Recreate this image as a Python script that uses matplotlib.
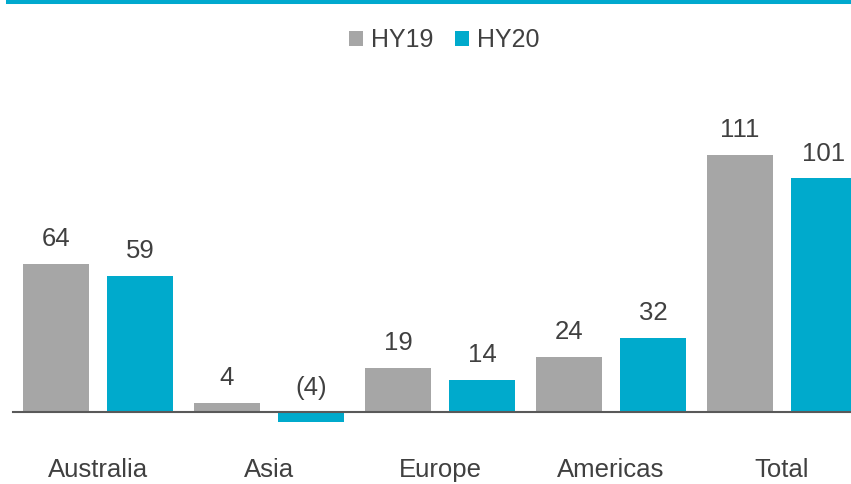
import matplotlib
matplotlib.use("Agg")
import matplotlib.pyplot as plt
from matplotlib.lines import Line2D
import numpy as np

regions = ["Australia", "Asia", "Europe", "Americas", "Total"]
series_names = ["HY19", "HY20"]
hy19 = [64, 4, 19, 24, 111]
hy20 = [59, -4, 14, 32, 101]

GRAY = "#A6A6A6"
TEAL = "#00AACC"
TEXT = "#404040"

plt.rcParams["font.family"] = ["Liberation Sans", "DejaVu Sans"]

W, H, DPI = 851, 484, 100
fig = plt.figure(figsize=(W / DPI, H / DPI), dpi=DPI)
ax = fig.add_axes([0, 0, 1, 1])

# pixel geometry of the plot area
group_px = 171.0
first_center_px = 98.0
zero_px = 412.3
unit_px = 2.317

ax.set_xlim(-first_center_px / group_px, (W - first_center_px) / group_px)
ax.set_ylim(-(H - zero_px) / unit_px, zero_px / unit_px)

x = np.arange(len(regions))
bw = 66 / group_px
off = 42 / group_px

def fmt(v):
    return f"({abs(v)})" if v < 0 else f"{v}"

fs = 18.5
for vals, sgn, color, name in [(hy19, -1, GRAY, series_names[0]),
                              (hy20, 1, TEAL, series_names[1])]:
    xs = x + sgn * off
    ax.bar(xs, vals, width=bw, color=color, label=name, zorder=2)
    for xi, v in zip(xs, vals):
        ax.annotate(fmt(v), (xi, max(v, 0)), xytext=(0, 12.8),
                    textcoords="offset points", ha="center", va="baseline",
                    fontsize=fs, color=TEXT)

for xi, name in zip(x, regions):
    ax.annotate(name, (xi, 0), xytext=(0, -46.5), textcoords="offset points",
                ha="center", va="baseline", fontsize=fs, color=TEXT)

# zero baseline
ax.axhline(0, xmin=13 / W, xmax=1, color="#595959", lw=1.5, zorder=3)

for s in ax.spines.values():
    s.set_visible(False)
ax.set_xticks([])
ax.set_yticks([])

leg = ax.legend(loc="center", bbox_to_anchor=(444 / W, 1 - 40 / H),
                ncol=2, frameon=False, fontsize=18, handlelength=0.56,
                handleheight=0.56, handletextpad=0.32, columnspacing=0.88,
                borderpad=0, borderaxespad=0)
for t in leg.get_texts():
    t.set_color(TEXT)

# accent rule across the top edge
fig.add_artist(Line2D([8 / W, 1], [1 - 2 / H, 1 - 2 / H], color="#00A9CE",
                      lw=2.9, transform=fig.transFigure))

fig.savefig("out.png", dpi=DPI)
